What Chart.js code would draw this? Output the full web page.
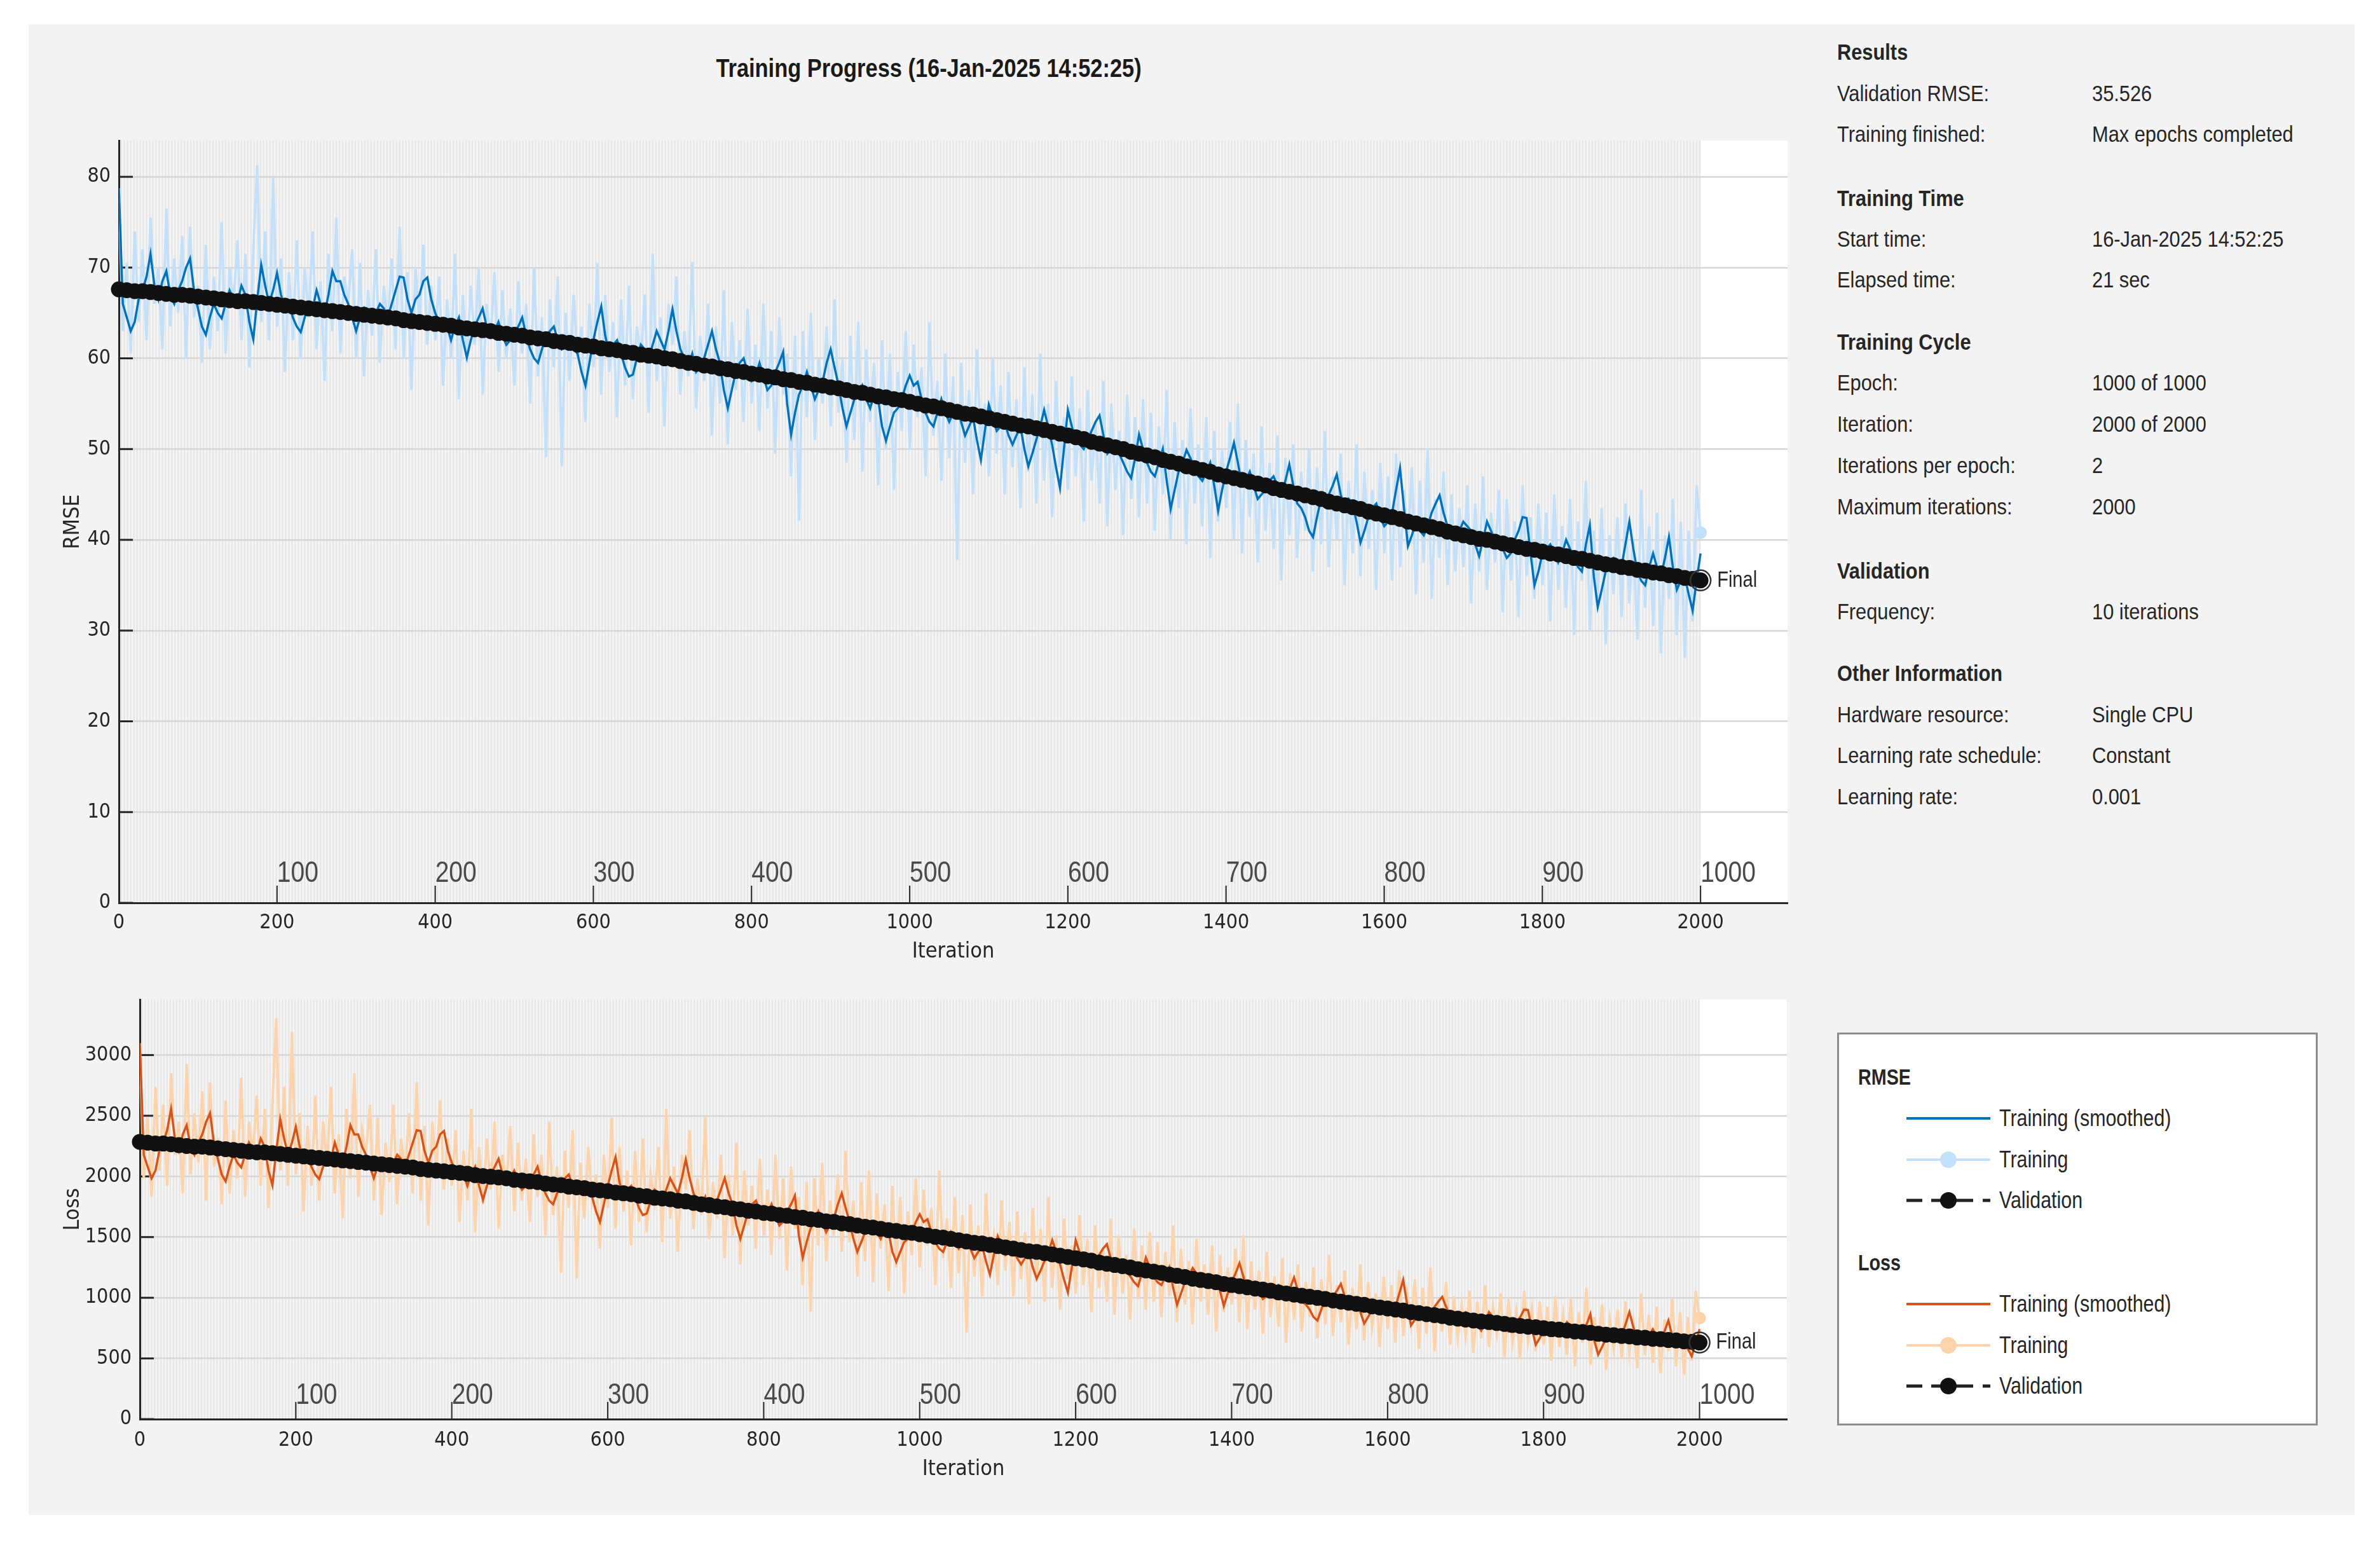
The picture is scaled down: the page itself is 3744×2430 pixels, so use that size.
<!DOCTYPE html>
<html><head><meta charset="utf-8">
<script src="https://cdn.jsdelivr.net/npm/chart.js@4.4.1/dist/chart.umd.min.js"></script>
<style>
html,body{margin:0;padding:0;background:#fff;}
body{width:3744px;height:2430px;position:relative;overflow:hidden;}
#panel{position:absolute;left:45px;top:38px;width:3659px;height:2345px;background:#f3f3f3;}
canvas{position:absolute;left:0;}
#title{position:absolute;left:1461px;top:107px;transform:translate(-50%,-50%) scaleX(0.86);font:bold 40px 'Liberation Sans',Arial,sans-serif;color:#1a1a1a;white-space:nowrap;}
.info{position:absolute;font:35px 'Liberation Sans',Arial,sans-serif;color:#262626;transform:translate(0,-50%) scaleX(0.88);transform-origin:left center;white-space:nowrap;}
.info.h{font-weight:bold;}
#legend{position:absolute;left:2890px;top:1624px;width:756px;height:618px;box-sizing:border-box;border:3px solid #8c8c8c;background:#fff;}
#legend .row{position:absolute;transform:translateY(-50%) scaleX(0.82);transform-origin:left center;font:37px 'Liberation Sans',Arial,sans-serif;color:#262626;white-space:nowrap;}
#legend .hd{font-weight:bold;font-size:35px;}
#legend svg{position:absolute;}
</style></head>
<body>
<div id="panel"></div>
<div id="title">Training Progress (16-Jan-2025 14:52:25)</div>
<canvas id="c1" width="2840" height="1540" style="top:0;width:2840px;height:1540px"></canvas>
<canvas id="c2" width="2840" height="890" style="top:1540px;width:2840px;height:890px"></canvas>
<div id="info"></div>
<div id="legend"></div>
<script>
// ---------------- DATA ----------------
const iterationTicks = [0,200,400,600,800,1000,1200,1400,1600,1800,2000];
const epochTickIterations = [200,400,600,800,1000,1200,1400,1600,1800,2000];
const epochTickLabels = ['100','200','300','400','500','600','700','800','900','1000'];
const rmseTicks = [0,10,20,30,40,50,60,70,80];
const lossTicks = [0,500,1000,1500,2000,2500,3000];
const trainingStep = 5;     // iterations between training samples below
const validationStep = 10;  // validation frequency (iterations)

const rmseTraining = [
78.7,63.0,70.5,60.5,74.0,64.0,72.0,62.0,75.5,66.0,70.0,61.0,76.5,63.5,71.0,65.0,73.5,60.0,74.5,64.5,
68.0,59.5,72.5,61.0,69.0,63.0,75.0,60.5,70.0,66.0,73.0,62.0,71.5,59.0,72.0,81.3,64.0,74.0,62.0,79.9,
63.5,71.0,58.5,69.5,62.0,73.0,60.0,70.0,64.5,74.0,61.0,68.5,57.5,71.5,63.0,75.5,60.5,69.0,66.0,72.0,
60.0,70.5,58.0,67.5,62.5,72.0,59.5,68.0,63.5,71.0,61.0,74.5,60.0,69.5,56.5,70.0,64.0,72.5,61.5,68.0,
62.0,69.0,57.0,66.5,60.0,71.5,55.5,67.0,59.5,68.0,61.5,70.0,56.0,66.0,62.0,69.5,58.5,67.5,60.0,65.5,
57.0,68.5,60.5,66.0,55.0,70.0,58.0,64.5,49.1,66.5,59.0,69.0,48.1,65.0,57.5,67.0,60.0,63.5,53.0,66.0,
59.0,70.5,56.0,67.0,58.5,64.0,53.5,66.5,57.0,68.0,55.5,63.5,60.0,67.0,54.0,71.5,57.5,64.5,52.5,66.0,
61.5,69.0,56.0,63.0,58.0,70.6,54.5,62.5,57.5,66.0,51.5,63.5,55.0,67.5,50.5,64.0,56.5,62.0,53.0,65.5,
55.0,61.5,52.0,66.0,54.5,63.0,49.5,64.5,56.0,60.5,47.0,62.5,42.1,63.0,53.5,65.0,51.0,60.0,55.0,63.5,
52.5,66.5,54.0,60.0,48.5,62.5,51.0,64.0,47.5,61.0,53.0,59.5,46.0,62.0,50.0,60.5,45.5,58.5,52.0,63.0,
50.0,61.5,53.5,59.0,47.0,64.0,51.5,57.5,46.5,60.5,49.0,58.0,37.8,59.5,48.5,56.5,45.0,61.0,50.5,55.0,
47.0,60.0,49.5,57.0,45.0,58.5,48.0,55.5,43.5,59.0,47.5,56.0,44.0,60.5,46.5,55.0,42.5,57.5,48.0,53.5,
45.5,58.0,47.0,54.5,42.0,56.5,46.5,53.0,44.0,57.5,41.5,55.0,45.5,52.0,40.5,56.0,44.5,53.5,42.5,55.5,
44.0,54.0,41.0,52.5,45.0,56.5,40.0,53.0,43.5,51.0,39.5,54.5,44.0,50.5,41.5,53.5,38.0,52.0,42.0,50.0,
43.5,53.0,40.0,55.0,38.5,51.0,42.5,49.5,37.5,52.5,41.0,48.5,39.0,51.5,35.5,49.0,40.5,50.5,38.0,47.5,
41.0,50.0,36.5,48.0,39.5,52.0,37.0,47.0,40.0,49.5,35.0,46.5,38.5,50.5,36.0,47.5,39.0,45.5,34.5,48.5,
38.5,47.0,35.5,49.5,37.0,45.5,39.5,48.0,34.0,46.5,37.5,50.0,33.5,44.5,38.0,47.5,35.0,45.0,36.5,43.5,
37.0,46.0,33.0,44.0,36.5,47.0,34.5,43.0,37.5,45.5,32.0,44.5,35.5,42.0,31.5,46.0,36.0,42.5,33.5,44.0,
35.0,43.0,31.0,45.0,34.5,41.5,32.5,44.5,29.5,42.0,35.5,46.5,30.0,41.0,33.5,43.5,28.5,40.5,34.0,42.5,
31.5,44.0,33.0,40.0,29.0,45.5,32.5,41.5,30.5,43.0,27.5,40.5,33.5,44.5,29.5,42.0,27.0,41.0,31.0,46.0,
40.8];

const rmseSmoothed = [
78.7,66.0,64.5,63.0,64.0,66.5,67.5,69.0,71.5,68.0,66.5,68.5,69.6,67.0,66.0,67.5,68.5,70.0,71.0,67.5,
65.5,63.5,62.6,64.5,66.0,65.0,64.4,66.0,67.5,66.5,66.2,68.0,67.0,64.0,62.1,66.5,70.3,68.0,66.0,67.5,
69.4,67.0,65.5,66.0,64.5,63.5,62.9,64.5,66.0,65.5,67.5,66.0,64.8,67.0,69.6,68.5,68.5,67.0,66.0,64.5,
63.0,64.5,65.5,64.5,64.0,65.0,66.0,65.5,64.5,66.0,67.5,69.0,68.9,66.5,65.0,66.5,67.0,68.5,68.9,66.5,
65.0,64.0,63.0,63.5,62.0,63.5,64.5,62.0,60.1,62.0,63.5,64.5,65.5,63.5,62.5,63.0,64.0,62.5,61.5,62.0,
62.9,63.5,64.5,62.5,61.0,60.0,59.5,61.0,62.5,63.0,63.5,62.0,61.0,61.5,62.0,61.0,60.5,58.5,57.0,59.5,
62.0,64.0,65.7,62.5,60.5,61.5,62.0,60.5,59.0,58.0,58.2,60.0,61.5,61.0,60.0,61.5,63.0,62.0,61.0,63.0,
65.4,63.0,61.0,60.0,59.0,60.5,58.5,59.0,60.0,61.5,63.0,61.0,59.5,56.5,54.5,56.5,58.5,59.5,60.0,58.5,
57.5,58.0,59.5,58.0,56.5,57.0,58.5,59.5,60.7,55.0,51.6,54.0,56.0,57.0,58.5,57.0,55.5,56.5,57.5,59.5,
61.0,59.0,57.0,54.5,52.5,54.0,55.5,56.0,57.0,55.5,54.5,56.0,55.5,52.5,50.9,52.5,54.0,54.5,55.5,57.0,
58.1,57.0,57.4,55.5,54.0,53.0,52.5,54.0,55.5,54.0,53.0,54.0,54.5,53.0,51.5,52.5,53.5,51.0,48.8,52.0,
54.9,53.5,52.0,52.5,53.0,51.5,50.5,51.5,52.5,50.0,48.1,49.5,51.0,52.5,54.3,52.5,50.5,48.0,45.7,50.0,
54.3,52.5,51.0,50.5,50.0,51.0,52.0,53.0,53.7,51.5,49.5,50.0,50.5,49.5,48.5,47.5,46.8,49.0,51.6,50.0,
48.5,47.5,47.0,48.5,50.0,46.5,43.4,45.5,47.5,48.5,49.9,49.0,48.0,47.0,46.5,47.5,48.5,46.0,43.2,45.5,
47.5,49.0,50.7,48.5,46.0,46.5,47.5,46.0,44.5,45.0,45.5,46.5,47.0,46.0,45.0,46.5,48.3,46.0,44.0,43.5,
42.5,41.0,40.3,42.5,44.5,44.0,45.0,46.0,47.2,45.0,43.5,44.5,44.0,42.0,39.7,41.0,42.5,43.5,44.0,42.5,
41.5,42.0,43.0,45.5,47.9,43.5,39.3,40.5,42.0,41.0,40.5,41.5,43.0,44.0,44.9,43.0,41.5,40.5,40.0,41.0,
42.0,41.5,41.0,39.5,38.2,40.0,42.0,41.0,40.0,39.5,39.0,38.0,38.5,40.0,41.0,42.5,42.4,38.5,35.0,36.5,
38.5,39.0,39.5,38.5,37.5,38.5,40.0,39.0,38.0,37.0,36.5,39.5,41.6,36.0,32.6,34.5,36.5,37.5,38.0,37.5,
37.0,39.5,42.0,39.0,36.5,35.5,35.0,37.0,38.5,37.0,36.0,38.0,40.3,37.0,34.5,35.5,36.0,34.0,32.2,35.5,
38.5];

const rmseValidation = [
67.6,67.5,67.4,67.4,67.3,67.2,67.1,67.0,67.0,66.9,
66.8,66.7,66.6,66.5,66.4,66.3,66.3,66.2,66.1,66.0,
65.9,65.8,65.7,65.6,65.5,65.4,65.3,65.2,65.1,65.0,
64.9,64.8,64.7,64.6,64.5,64.4,64.2,64.1,64.0,63.9,
63.8,63.7,63.6,63.4,63.3,63.2,63.1,63.0,62.8,62.7,
62.6,62.5,62.3,62.2,62.1,61.9,61.8,61.7,61.5,61.4,
61.3,61.1,61.0,60.9,60.7,60.6,60.4,60.3,60.2,60.0,
59.9,59.7,59.5,59.4,59.2,59.1,58.9,58.8,58.6,58.5,
58.3,58.2,58.0,57.9,57.7,57.6,57.4,57.3,57.1,57.0,
56.8,56.7,56.5,56.3,56.2,56.0,55.8,55.7,55.5,55.4,
55.2,55.0,54.8,54.7,54.5,54.3,54.1,53.9,53.8,53.6,
53.4,53.2,53.0,52.8,52.6,52.5,52.3,52.1,51.9,51.7,
51.5,51.3,51.1,50.8,50.6,50.4,50.2,50.0,49.7,49.5,
49.3,49.1,48.8,48.6,48.4,48.1,47.9,47.7,47.5,47.2,
47.0,46.8,46.6,46.4,46.2,46.0,45.7,45.5,45.3,45.1,
44.9,44.7,44.5,44.2,44.0,43.8,43.6,43.4,43.1,42.9,
42.7,42.5,42.3,42.0,41.8,41.6,41.4,41.2,40.9,40.7,
40.5,40.3,40.1,40.0,39.8,39.6,39.4,39.2,39.0,38.9,
38.7,38.5,38.4,38.2,38.0,37.9,37.7,37.5,37.3,37.2,
37.0,36.9,36.7,36.6,36.4,36.3,36.1,36.0,35.8,35.7,
35.53];

const lossTraining = [
3097,1985,2485,1830,2738,2048,2592,1922,2850,2178,2450,1861,2926,2016,2521,2113,2701,1800,2775,2080,
2312,1770,2628,1861,2381,1985,2813,1830,2450,2178,2665,1922,2556,1741,2592,3305,2048,2738,1922,3192,
2016,2521,1711,2415,1922,2665,1800,2450,2080,2738,1861,2346,1653,2556,1985,2850,1830,2381,2178,2592,
1800,2485,1682,2278,1953,2592,1770,2312,2016,2521,1861,2775,1800,2415,1596,2450,2048,2628,1891,2312,
1922,2381,1625,2211,1800,2556,1540,2245,1770,2312,1891,2450,1568,2178,1922,2415,1711,2278,1800,2145,
1625,2346,1830,2178,1513,2450,1682,2080,1205,2211,1741,2381,1157,2113,1653,2245,1800,2016,1405,2178,
1741,2485,1568,2245,1711,2048,1431,2211,1625,2312,1540,2016,1800,2245,1458,2556,1653,2080,1378,2178,
1891,2381,1568,1985,1682,2492,1485,1953,1653,2178,1326,2016,1513,2278,1275,2048,1596,1922,1405,2145,
1513,1891,1352,2178,1485,1985,1225,2080,1568,1830,1105,1953,886,1985,1431,2113,1301,1800,1513,2016,
1378,2211,1458,1800,1176,1953,1301,2048,1128,1861,1405,1770,1058,1922,1250,1830,1035,1711,1352,1985,
1250,1891,1431,1741,1105,2048,1326,1653,1081,1830,1201,1682,714,1770,1176,1596,1013,1861,1275,1513,
1105,1800,1225,1625,1013,1711,1152,1540,946,1741,1128,1568,968,1830,1081,1513,903,1653,1152,1431,
1035,1682,1105,1485,882,1596,1081,1405,968,1653,861,1513,1035,1352,820,1568,990,1431,903,1540,
968,1458,841,1378,1013,1596,800,1405,946,1301,780,1485,968,1275,861,1431,722,1352,882,1250,
946,1405,800,1513,741,1301,903,1225,703,1378,841,1176,761,1326,630,1201,820,1275,722,1128,
841,1250,666,1152,780,1352,685,1105,800,1225,613,1081,741,1275,648,1128,761,1035,595,1176,
741,1105,630,1225,685,1035,780,1152,578,1081,703,1250,561,990,722,1128,613,1013,666,946,
685,1058,545,968,666,1105,595,925,703,1035,512,990,630,882,496,1058,648,903,561,968,
613,925,481,1013,595,861,528,990,435,882,630,1081,450,841,561,946,406,820,578,903,
496,968,545,800,421,1035,528,861,465,925,378,820,561,990,435,882,365,841,481,1058,
832];

const lossSmoothed = [
3097,2178,2080,1985,2048,2211,2278,2381,2556,2312,2211,2346,2422,2245,2178,2278,2346,2450,2521,2278,
2145,2016,1959,2080,2178,2113,2074,2178,2278,2211,2191,2312,2245,2048,1928,2211,2471,2312,2178,2278,
2408,2245,2145,2178,2080,2016,1978,2080,2178,2145,2278,2178,2100,2245,2422,2346,2346,2245,2178,2080,
1985,2080,2145,2080,2048,2113,2178,2145,2080,2178,2278,2381,2374,2211,2113,2211,2245,2346,2374,2211,
2113,2048,1985,2016,1922,2016,2080,1922,1806,1922,2016,2080,2145,2016,1953,1985,2048,1953,1891,1922,
1978,2016,2080,1953,1861,1800,1770,1861,1953,1985,2016,1922,1861,1891,1922,1861,1830,1711,1625,1770,
1922,2048,2158,1953,1830,1891,1922,1830,1741,1682,1694,1800,1891,1861,1800,1891,1985,1922,1861,1985,
2139,1985,1861,1800,1741,1830,1711,1741,1800,1891,1985,1861,1770,1596,1485,1596,1711,1770,1800,1711,
1653,1682,1770,1682,1596,1625,1711,1770,1842,1513,1331,1458,1568,1625,1711,1625,1540,1596,1653,1770,
1861,1741,1625,1485,1378,1458,1540,1568,1625,1540,1485,1568,1540,1378,1295,1378,1458,1485,1540,1625,
1688,1625,1647,1540,1458,1405,1378,1458,1540,1458,1405,1458,1485,1405,1326,1378,1431,1301,1191,1352,
1507,1431,1352,1378,1405,1326,1275,1326,1378,1250,1157,1225,1301,1378,1474,1378,1275,1152,1044,1250,
1474,1378,1301,1275,1250,1301,1352,1405,1442,1326,1225,1250,1275,1225,1176,1128,1095,1201,1331,1250,
1176,1128,1105,1176,1250,1081,942,1035,1128,1176,1245,1201,1152,1105,1081,1128,1176,1058,933,1035,
1128,1201,1285,1176,1058,1081,1128,1058,990,1013,1035,1081,1105,1058,1013,1081,1166,1058,968,946,
903,841,812,903,990,968,1013,1058,1114,1013,946,990,968,882,788,841,903,946,968,903,
861,882,925,1035,1147,946,772,820,882,841,820,861,925,968,1008,925,861,820,800,841,
882,861,841,780,730,800,882,841,800,780,761,722,741,800,841,903,899,741,613,666,
741,761,780,741,703,741,800,761,722,685,666,780,865,648,531,595,666,703,722,703,
685,780,882,761,666,630,613,685,741,685,648,722,812,685,595,630,648,578,518,630,
741];

const lossValidation = [
2285,2278,2271,2271,2265,2258,2251,2245,2245,2238,
2231,2224,2218,2211,2204,2198,2198,2191,2185,2178,
2171,2165,2158,2152,2145,2139,2132,2126,2119,2113,
2106,2100,2093,2087,2080,2074,2061,2054,2048,2042,
2035,2029,2022,2010,2003,1997,1991,1985,1972,1966,
1959,1953,1941,1934,1928,1916,1910,1903,1891,1885,
1879,1867,1861,1854,1842,1836,1824,1818,1812,1800,
1794,1782,1770,1764,1752,1746,1735,1729,1717,1711,
1699,1694,1682,1676,1665,1659,1647,1642,1630,1625,
1613,1607,1596,1585,1579,1568,1557,1551,1540,1535,
1524,1513,1502,1496,1485,1474,1463,1453,1447,1436,
1426,1415,1405,1394,1383,1378,1368,1357,1347,1336,
1326,1316,1306,1290,1280,1270,1260,1250,1235,1225,
1215,1205,1191,1181,1171,1157,1147,1138,1128,1114,
1105,1095,1086,1076,1067,1058,1044,1035,1026,1017,
1008,999,990,977,968,959,950,942,929,920,
912,903,895,882,874,865,857,849,836,828,
820,812,804,800,792,784,776,768,761,757,
749,741,737,730,722,718,711,703,696,692,
685,681,673,670,662,659,652,648,641,637,
631];

// ---------------- STYLE / RENDER ----------------
const NARROW = "'DejaVu Sans Condensed','Liberation Sans Narrow','Arial Narrow',sans-serif";
const AXIS = '#262626';
const toXY = (arr, step) => arr.map((v, i) => ({x: i * step, y: v}));

function condensedText(ctx, text, x, y, font, sx) {
  ctx.save();
  ctx.font = font;
  ctx.translate(x, y);
  ctx.scale(sx, 1);
  ctx.fillText(text, 0, 0);
  ctx.restore();
}

function decorPlugin(opt) {
  return {
    id: 'decor',
    beforeDraw(chart) {
      const {ctx, chartArea: a, scales: {x}} = chart;
      const xEnd = x.getPixelForValue(opt.lastIteration);
      ctx.save();
      ctx.fillStyle = '#ffffff';
      ctx.fillRect(a.left, a.top, a.right - a.left, a.bottom - a.top);
      ctx.fillStyle = '#f6f6f6';
      ctx.fillRect(a.left, a.top, xEnd - a.left, a.bottom - a.top);
      ctx.fillStyle = '#e7e7e7';
      for (let e = 1; e < opt.epochs; e += 2) {
        const x0 = x.getPixelForValue(e * opt.itersPerEpoch);
        const x1 = x.getPixelForValue((e + 1) * opt.itersPerEpoch);
        ctx.fillRect(x0, a.top, x1 - x0, a.bottom - a.top);
      }
      ctx.restore();
    },
    beforeDatasetsDraw(chart) {
      const {ctx, chartArea: a, scales: {x, y}} = chart;
      ctx.save();
      ctx.strokeStyle = AXIS;
      ctx.lineWidth = 3;
      y.ticks.forEach(t => {
        const py = y.getPixelForValue(t.value);
        ctx.beginPath(); ctx.moveTo(a.left, py); ctx.lineTo(a.left + 22, py); ctx.stroke();
      });
      ctx.lineWidth = 2;
      ctx.fillStyle = '#4a4a4a';
      ctx.textAlign = 'left';
      ctx.textBaseline = 'alphabetic';
      epochTickIterations.forEach((it, i) => {
        const px = x.getPixelForValue(it);
        ctx.beginPath(); ctx.moveTo(px, a.bottom - 27); ctx.lineTo(px, a.bottom); ctx.stroke();
        condensedText(ctx, epochTickLabels[i], px, a.bottom - opt.epochLabelLift,
                      "47px 'Liberation Sans',Arial,sans-serif", 0.83);
      });
      ctx.restore();
    },
    afterDatasetsDraw(chart) {
      const {ctx} = chart;
      const meta = chart.getDatasetMeta(0);
      const pt = meta.data[meta.data.length - 1];
      ctx.save();
      ctx.strokeStyle = '#333';
      ctx.lineWidth = 2.5;
      ctx.beginPath(); ctx.arc(pt.x, pt.y, 16, 0, Math.PI * 2); ctx.stroke();
      ctx.fillStyle = AXIS;
      ctx.textAlign = 'left';
      ctx.textBaseline = 'middle';
      condensedText(ctx, 'Final', pt.x + 26, pt.y, "35px 'Liberation Sans',Arial,sans-serif", 0.83);
      ctx.restore();
    }
  };
}

function makeChart(canvasId, o) {
  const lastRaw = o.train.length - 1;
  return new Chart(document.getElementById(canvasId), {
    type: 'line',
    data: {
      datasets: [
        {label: 'Validation', data: toXY(o.val, validationStep), borderColor: '#222', borderWidth: 2,
         borderDash: [8, 6], pointRadius: 12.5, pointBackgroundColor: '#111', pointBorderWidth: 0,
         pointHoverRadius: 12.5, clip: false},
        {label: 'Training (smoothed)', data: toXY(o.smooth, trainingStep), borderColor: o.smoothColor,
         borderWidth: 3.5, pointRadius: 0},
        {label: 'Training', data: toXY(o.train, trainingStep), borderColor: o.rawColor, borderWidth: 4,
         pointRadius: c => c.dataIndex === lastRaw ? 10 : 0, pointBackgroundColor: o.rawColor,
         pointBorderWidth: 0}
      ]
    },
    options: {
      responsive: false, animation: false, devicePixelRatio: 1,
      layout: {padding: o.padding},
      plugins: {legend: {display: false}, tooltip: {enabled: false}, title: {display: false}},
      elements: {line: {tension: 0}},
      scales: {
        x: {
          type: 'linear', min: 0, max: o.xMax,
          afterBuildTicks: ax => { ax.ticks = iterationTicks.map(v => ({value: v})); },
          afterFit: ax => { ax.height = o.xHeight; },
          grid: {display: false, drawTicks: false},
          border: {display: true, color: AXIS, width: 3},
          ticks: {color: AXIS, font: {family: NARROW, size: 32}, padding: o.xTickPad, maxRotation: 0,
                  autoSkip: false, callback: v => String(v)},
          title: {display: true, text: 'Iteration', color: AXIS, font: {family: NARROW, size: 34},
                  padding: {top: 0, bottom: o.xTitlePad}}
        },
        y: {
          type: 'linear', min: 0, max: o.yMax,
          afterBuildTicks: ax => { ax.ticks = o.yTicks.map(v => ({value: v})); },
          afterFit: ax => { ax.width = o.yWidth; },
          grid: {color: '#d6d6d6', lineWidth: 2.5, drawTicks: false},
          border: {display: true, color: AXIS, width: 3},
          ticks: {color: AXIS, font: {family: NARROW, size: 32}, padding: 13, callback: v => String(v)},
          title: {display: true, text: o.yTitle, color: AXIS, font: {family: NARROW, size: 34},
                  padding: {top: 95, bottom: 0}}
        }
      }
    },
    plugins: [decorPlugin({lastIteration: 2000, epochs: 1000, itersPerEpoch: 2, epochLabelLift: o.epochLift})]
  });
}

makeChart('c1', {
  train: rmseTraining, smooth: rmseSmoothed, val: rmseValidation,
  rawColor: '#c3e0fa', smoothColor: '#0072bd',
  padding: {left: 0, top: 221, right: 28, bottom: 0},
  xMax: 2110, yMax: 84, yTicks: rmseTicks, yTitle: 'RMSE',
  xHeight: 120, yWidth: 187, xTickPad: 12, xTitlePad: 22, epochLift: 33
});
makeChart('c2', {
  train: lossTraining, smooth: lossSmoothed, val: lossValidation,
  rawColor: '#fdd3ac', smoothColor: '#d95319',
  padding: {left: 0, top: 17, right: 29, bottom: 0},
  xMax: 2112, yMax: 3457, yTicks: lossTicks, yTitle: 'Loss',
  xHeight: 198, yWidth: 220, xTickPad: 14, xTitlePad: 98, epochLift: 24
});

// ---------------- INFO PANEL ----------------
const infoRows = [
  ['Results', null, 82, true],
  ['Validation RMSE:', '35.526', 147],
  ['Training finished:', 'Max epochs completed', 211],
  ['Training Time', null, 312, true],
  ['Start time:', '16-Jan-2025 14:52:25', 376],
  ['Elapsed time:', '21 sec', 440],
  ['Training Cycle', null, 538, true],
  ['Epoch:', '1000 of 1000', 602],
  ['Iteration:', '2000 of 2000', 667],
  ['Iterations per epoch:', '2', 732],
  ['Maximum iterations:', '2000', 797],
  ['Validation', null, 898, true],
  ['Frequency:', '10 iterations', 962],
  ['Other Information', null, 1059, true],
  ['Hardware resource:', 'Single CPU', 1124],
  ['Learning rate schedule:', 'Constant', 1188],
  ['Learning rate:', '0.001', 1253]
];
const info = document.getElementById('info');
infoRows.forEach(([lab, val, y, head]) => {
  const d = document.createElement('div');
  d.className = 'info' + (head ? ' h' : '');
  d.style.left = '2890px'; d.style.top = y + 'px';
  d.textContent = lab; info.appendChild(d);
  if (val !== null) {
    const v = document.createElement('div');
    v.className = 'info';
    v.style.left = '3291px'; v.style.top = y + 'px';
    v.textContent = val; info.appendChild(v);
  }
});

// ---------------- LEGEND ----------------
const legendGroups = [
  {title: 'RMSE', y: 67, smooth: '#0072bd', raw: '#c3e0fa'},
  {title: 'Loss', y: 359, smooth: '#d95319', raw: '#fdd3ac'}
];
const lg = document.getElementById('legend');
function addRow(txt, x, y, cls) {
  const d = document.createElement('div');
  d.className = 'row' + (cls ? ' ' + cls : '');
  d.style.left = x + 'px'; d.style.top = y + 'px';
  d.textContent = txt; lg.appendChild(d);
}
function addSvg(inner, y) {
  const ns = 'http://www.w3.org/2000/svg';
  const s = document.createElementNS(ns, 'svg');
  s.setAttribute('width', '132'); s.setAttribute('height', '30');
  s.style.left = '106px'; s.style.top = (y - 15) + 'px';
  s.innerHTML = inner; lg.appendChild(s);
}
legendGroups.forEach(g => {
  addRow(g.title, 30, g.y, 'hd');
  addSvg(`<line x1="0" y1="15" x2="132" y2="15" stroke="${g.smooth}" stroke-width="4"/>`, g.y + 65);
  addRow('Training (smoothed)', 252, g.y + 65);
  addSvg(`<line x1="0" y1="15" x2="132" y2="15" stroke="${g.raw}" stroke-width="4"/><circle cx="66" cy="15" r="13" fill="${g.raw}"/>`, g.y + 130);
  addRow('Training', 252, g.y + 130);
  addSvg(`<line x1="0" y1="15" x2="25" y2="15" stroke="#222" stroke-width="5"/><line x1="39" y1="15" x2="105" y2="15" stroke="#222" stroke-width="5"/><line x1="120" y1="15" x2="132" y2="15" stroke="#222" stroke-width="5"/><circle cx="66" cy="15" r="13" fill="#111"/>`, g.y + 194);
  addRow('Validation', 252, g.y + 194);
});
</script>
</body></html>
